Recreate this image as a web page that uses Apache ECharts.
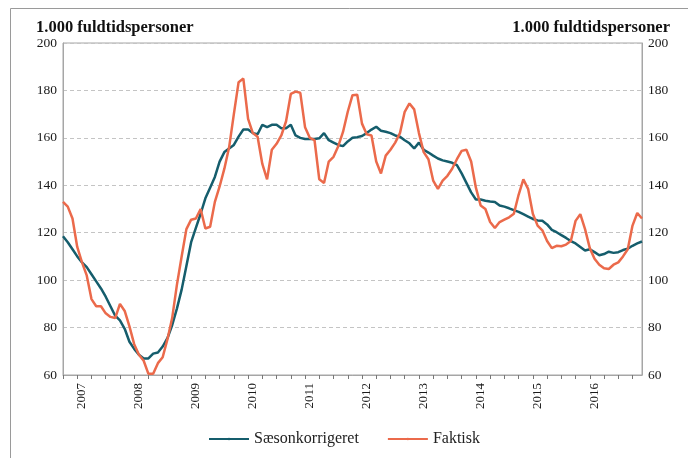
<!DOCTYPE html>
<html>
<head>
<meta charset="utf-8">
<script src="https://cdn.jsdelivr.net/npm/echarts@6/dist/echarts.min.js"></script>
<style>
  html, body { margin: 0; padding: 0; background: #fff; }
  #chart { width: 688px; height: 458px; }
</style>
</head>
<body>
<div id="chart"></div>
<script>
//Données (1.000 fuldtidspersoner, månedlig jan. 2007 - mar. 2017)
const years = ['2007', '2008', '2009', '2010', '2011', '2012', '2013', '2014', '2015', '2016', '2017'];
const nMonths = 123;

const saesonkorrigeret = [
  118.5, 116, 113, 110, 107.5, 105.5, 102.5, 99.5, 96.5, 93, 89, 85,
  83, 79.5, 74, 71, 68.5, 67, 67, 69, 69.5, 72, 75.5, 81,
  88, 96, 106, 116, 122, 128, 134.5, 139, 143.5, 150, 154, 155.5,
  157, 160.5, 163.5, 163.5, 162, 161.5, 165.5, 164.5, 165.5, 165.5, 164, 164,
  165.5, 161, 160, 159.5, 159.5, 159.5, 159.8, 162, 159, 158, 157, 156.5,
  158.5, 160, 160.3, 160.8, 162, 163.5, 164.7, 163, 162.6, 162, 161, 160.5,
  159, 157.7, 155.5, 158, 155, 153.8, 152.5, 151.3, 150.5, 150, 149.5, 148.5,
  145, 141, 137, 134, 134, 133.5, 133.2, 133, 131.5, 131, 130.3, 129.5,
  128.8, 127.8, 126.8, 125.8, 125.2, 125, 123.5, 121.2, 120.2, 119, 117.8, 116.5,
  115.5, 114, 112.5, 113, 111.8, 110.5, 111, 112, 111.5, 111.8, 112.7, 113.3,
  114.5, 115.5, 116.3
];

const faktisk = [
  133, 131, 126, 114, 107.5, 102, 92, 89, 89, 86, 84.5, 84,
  90, 87, 80.5, 73, 68.5, 66, 60.5, 60.5, 65, 67.5, 75, 84,
  98, 110, 121.5, 125.5, 126, 130, 121.8, 122.5, 133, 139.5, 147, 156,
  170, 183.5, 185, 168, 162, 160.5, 149, 142.5, 155, 157.5, 161, 167,
  178.5, 179.5, 179, 164.5, 160, 159, 142.5, 141, 150, 152, 156.5, 162.5,
  171, 178, 178.2, 166, 161.5, 161, 150, 145, 152.5, 155, 158, 162,
  171, 174.5, 172, 162, 154, 151, 142, 138.5, 142, 144, 147, 151,
  154.5, 155, 150, 139, 131.5, 130, 124.5, 122, 124.5, 125.5, 126.5, 128,
  136, 142.5, 138.5, 128, 123, 121, 116.5, 113.5, 114.5, 114.3, 115, 116.5,
  125, 127.8, 121.5, 113.5, 109, 106.5, 105, 104.7, 106.5, 107.5, 110, 113,
  123, 128.3, 126
];

//Catégories mensuelles construites à partir des années
const months = [];
years.forEach(y => {
  for (let m = 1; m <= 12; m++) months.push(`${y}M${String(m).padStart(2, '0')}`);
});
const categories = months.slice(0, nMonths);

const font = 'Liberation Serif';
const gridColor = '#a6a6a6';

let chart = echarts.init(document.getElementById('chart'));

const yAxisBase = {
  type: 'value',
  min: 60,
  max: 200,
  interval: 20,
  axisLine: { show: true, lineStyle: { color: gridColor, width: 1 } },
  axisTick: { show: false },
  axisLabel: { color: '#1a1a1a', fontFamily: font, fontSize: 13.5, margin: 6 }
};

const titleStyle = { fontFamily: font, fontSize: 16.5, fontWeight: 'bold', color: '#111' };

chart.setOption({
  backgroundColor: '#fff',
  animation: false,
  title: [
    { text: '1.000 fuldtidspersoner', left: 31, top: 14, textStyle: titleStyle },
    { text: '1.000 fuldtidspersoner', right: 13, top: 14, textStyle: titleStyle }
  ],
  graphic: [
    { type: 'polyline', silent: true,
      shape: { points: [[10.5, 460], [10.5, 8.5], [688, 8.5]] },
      style: { stroke: '#9a9a9a', lineWidth: 1, fill: null } }
  ],
  grid: { left: 63, right: 46, top: 43, bottom: 83, show: true, borderColor: gridColor, borderWidth: 1 },
  legend: {
    bottom: 6,
    left: 'center',
    itemWidth: 40,
    itemHeight: 3,
    itemGap: 28,
    textStyle: { fontFamily: font, fontSize: 16, color: '#222' },
    data: ['Sæsonkorrigeret', 'Faktisk']
  },
  xAxis: {
    type: 'category',
    boundaryGap: false,
    data: categories,
    axisLine: { lineStyle: { color: gridColor } },
    axisTick: { interval: i => i % 3 === 0, length: 4, lineStyle: { color: '#777' } },
    axisLabel: {
      interval: i => i % 12 === 4,
      formatter: v => v.slice(0, 4),
      rotate: 90,
      margin: 8,
      color: '#1a1a1a',
      fontFamily: font,
      fontSize: 13
    },
    splitLine: { show: false }
  },
  yAxis: [
    { ...yAxisBase, position: 'left',
      splitLine: { show: true, lineStyle: { color: '#c4c4c4', type: [4, 3], width: 1 } } },
    { ...yAxisBase, position: 'right', splitLine: { show: false } }
  ],
  series: [
    {
      name: 'Sæsonkorrigeret',
      type: 'line',
      symbol: 'none',
      lineStyle: { color: '#155d6c', width: 2.5 },
      itemStyle: { color: '#155d6c' },
      data: saesonkorrigeret
    },
    {
      name: 'Faktisk',
      type: 'line',
      symbol: 'none',
      lineStyle: { color: '#eb6a4b', width: 2.5 },
      itemStyle: { color: '#eb6a4b' },
      data: faktisk
    }
  ]
});

window.addEventListener('resize', () => chart.resize());
</script>
</body>
</html>
